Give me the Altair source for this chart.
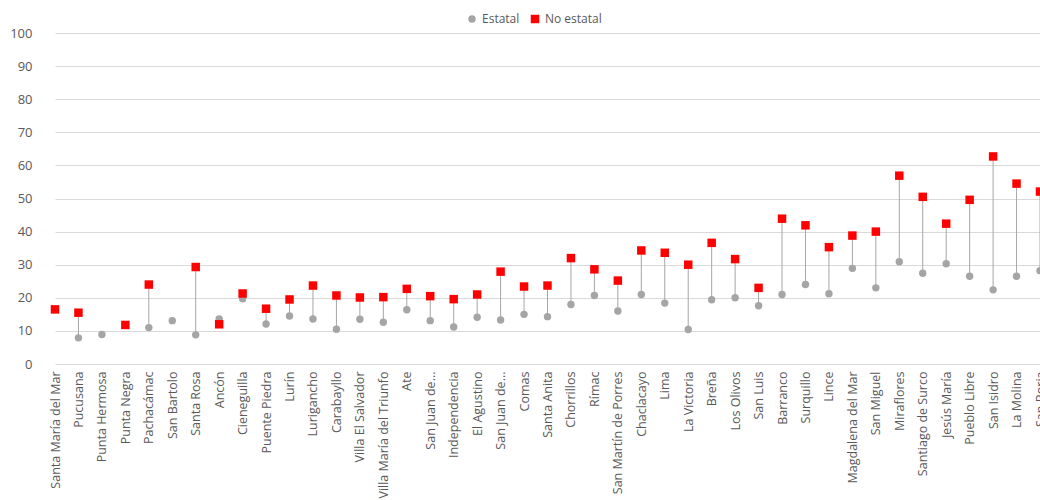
import altair as alt
import pandas as pd

categories = [
    "Santa María del Mar", "Pucusana", "Punta Hermosa", "Punta Negra", "Pachacámac",
    "San Bartolo", "Santa Rosa", "Ancón", "Cieneguilla", "Puente Piedra", "Lurín",
    "Lurigancho", "Carabayllo", "Villa El Salvador", "Villa María del Triunfo", "Ate",
    "San Juan de Lurigancho", "Independencia", "El Agustino", "San Juan de Miraflores",
    "Comas", "Santa Anita", "Chorrillos", "Rímac", "San Martín de Porres", "Chaclacayo",
    "Lima", "La Victoria", "Breña", "Los Olivos", "San Luis", "Barranco", "Surquillo",
    "Lince", "Magdalena del Mar", "San Miguel", "Miraflores", "Santiago de Surco",
    "Jesús María", "Pueblo Libre", "San Isidro", "La Molina", "San Borja",
]
estatal = [
    None, 7.9, 8.9, None, 11.0, 13.1, 8.8, 13.6, 19.7, 12.1, 14.5,
    13.6, 10.5, 13.5, 12.6, 16.4, 13.1, 11.2, 14.1, 13.3,
    15.0, 14.3, 18.0, 20.7, 16.0, 21.0, 18.4, 10.4, 19.4, 20.0,
    17.6, 21.0, 24.0, 21.2, 28.9, 23.0, 30.9, 27.4, 30.3, 26.5,
    22.4, 26.5, 28.2,
]
no_estatal = [
    16.5, 15.5, None, 11.8, 24.0, None, 29.3, 12.0, 21.3, 16.7, 19.5,
    23.7, 20.7, 20.1, 20.2, 22.7, 20.5, 19.6, 21.0, 27.9,
    23.4, 23.7, 32.0, 28.6, 25.2, 34.3, 33.6, 30.0, 36.6, 31.7,
    23.0, 43.9, 41.9, 35.3, 38.8, 40.0, 56.9, 50.5, 42.4, 49.6,
    62.7, 54.5, 52.1,
]
series = ["Estatal", "No estatal"]
y_ticks = list(range(0, 101, 10))

wide = pd.DataFrame({"cat": categories, "Estatal": estatal, "No estatal": no_estatal})
long = wide.melt(id_vars="cat", value_vars=series, var_name="serie", value_name="valor").dropna()

FONT = "Open Sans"
TXT = "#595959"

x_enc = alt.X(
    "cat:N",
    sort=categories,
    scale=alt.Scale(type="point", range=[12, 997], padding=0),
    axis=alt.Axis(
        title=None, labelAngle=-90, ticks=False, domain=False, grid=False,
        labelPadding=7, labelFont=FONT, labelFontSize=12.5, labelColor=TXT,
        labelLimit=200,
        labelExpr="indexof(datum.label, 'San Juan de') == 0 ? 'San Juan de...' : datum.label",
    ),
)
y_scale = alt.Scale(domain=[0, 100], nice=False)
y_axis = alt.Axis(
    title=None, values=y_ticks, ticks=False, domain=False, grid=True,
    gridColor="#d9d9d9", gridWidth=1, labelPadding=11, labelFont=FONT,
    labelFontSize=13, labelColor=TXT,
)

leg = alt.Legend(
    title=None, orient="none", direction="horizontal", legendX=423, legendY=-20,
    labelFont=FONT, labelFontSize=12, labelColor=TXT, symbolSize=40,
    columnPadding=9, labelOffset=4,
)

rules = alt.Chart(wide).transform_filter(
    "isValid(datum['Estatal']) && isValid(datum['No estatal'])"
).mark_rule(color="#a6a6a6", strokeWidth=1).encode(
    x=x_enc,
    y=alt.Y("Estatal:Q", scale=y_scale, axis=y_axis),
    y2="No estatal:Q",
)

points = alt.Chart(long).mark_point(filled=True, opacity=1, strokeWidth=0).encode(
    x=x_enc,
    y=alt.Y("valor:Q", scale=y_scale, axis=y_axis),
    color=alt.Color(
        "serie:N",
        scale=alt.Scale(domain=series, range=["#a5a5a5", "#ff0000"]),
        legend=leg,
    ),
    shape=alt.Shape(
        "serie:N",
        scale=alt.Scale(domain=series, range=["circle", "square"]),
        legend=leg,
    ),
    size=alt.Size("serie:N", scale=alt.Scale(domain=series, range=[55, 72]), legend=None),
)

chart = alt.layer(rules, points).properties(
    width=997, height=331,
    autosize=alt.AutoSizeParams(type="none"),
    padding={"left": 43, "top": 33, "right": 0, "bottom": 136},
    background="white",
).configure_view(stroke=None)

chart.save("out.html", embed_options={"renderer": "svg", "actions": False})
